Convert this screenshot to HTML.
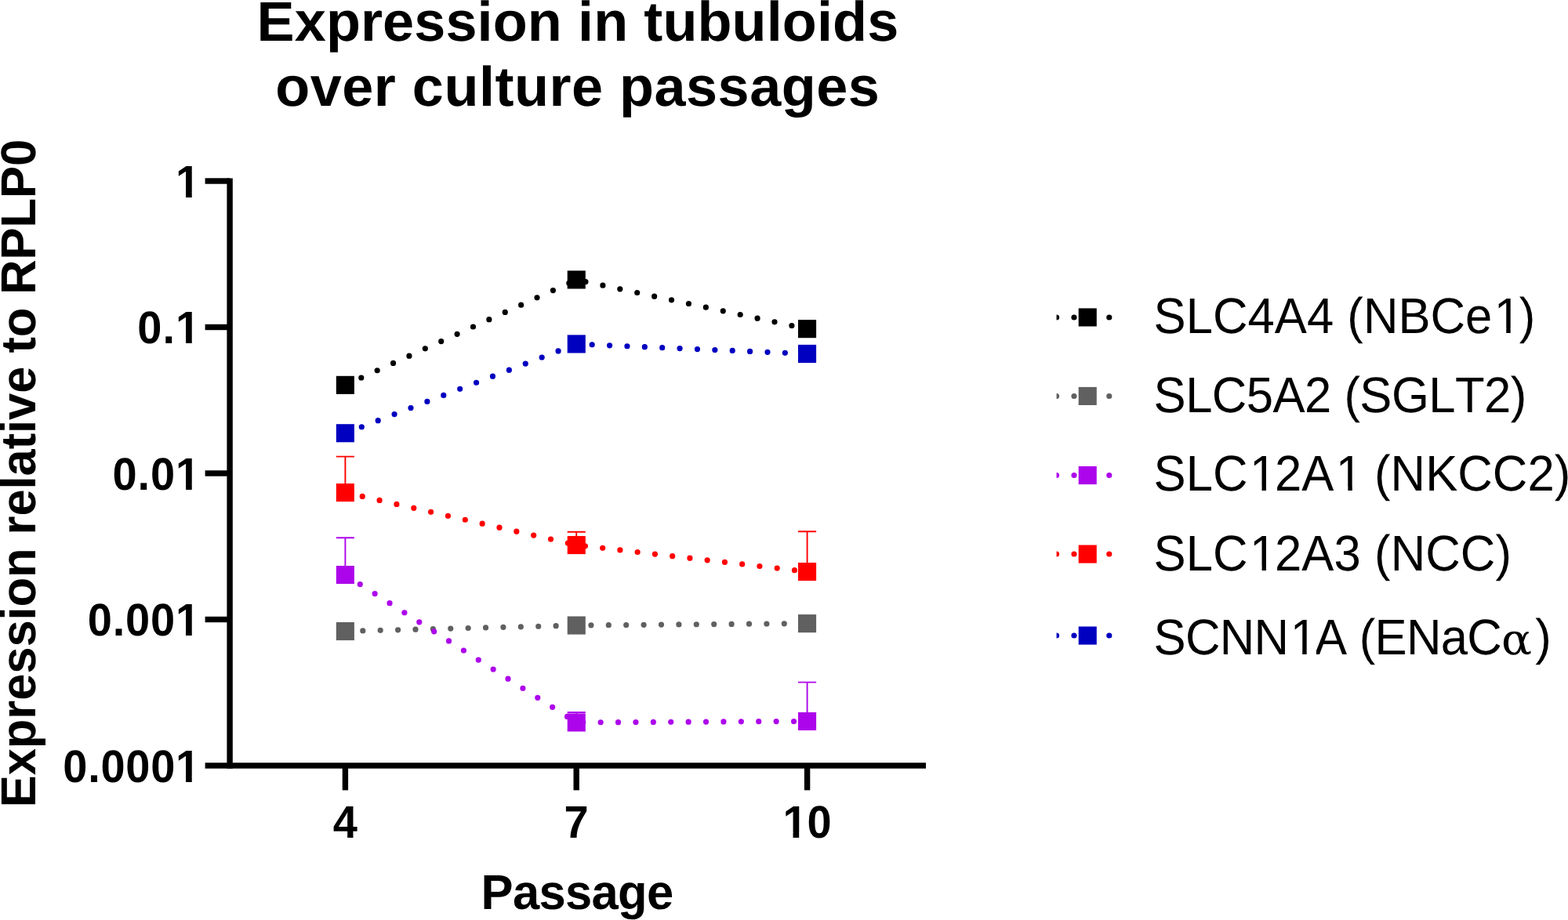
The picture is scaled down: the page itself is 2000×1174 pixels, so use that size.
<!DOCTYPE html>
<html lang="en"><head><meta charset="utf-8"><title>Expression in tubuloids over culture passages</title>
<style>
html,body{margin:0;padding:0;background:#fff;}
body{width:2000px;height:1174px;overflow:hidden;}
svg{display:block;}
text{font-family:"Liberation Sans",sans-serif;fill:#000;font-kerning:none;text-rendering:geometricPrecision;}
.b{font-weight:700;}
.title{font-size:72px;}
.axl{font-size:61.5px;}
.tk{font-size:56.0px;}
.lg{font-size:61.6px;}
.sym{font-family:"DejaVu Serif","Liberation Serif",serif;}
</style></head><body>
<svg width="2000" height="1174" viewBox="0 0 2000 1174">
<rect width="2000" height="1174" fill="#ffffff"/>
<text class="b title" transform="translate(327.60 52.20) scale(1 0.99)" textLength="818.60" lengthAdjust="spacing">Expression in tubuloids</text>
<text class="b title" transform="translate(351.20 134.60) scale(1 0.99)" textLength="770.60" lengthAdjust="spacing">over culture passages</text>
<text class="b axl" transform="translate(45.20 1030.20) rotate(-90) scale(1 1.02)" textLength="852.40" lengthAdjust="spacing">Expression relative to RPLP0</text>
<text class="b axl" transform="translate(613.60 1159.50) scale(1 1.02)" textLength="245.60" lengthAdjust="spacing">Passage</text>
<g fill="#000">
<rect x="289.40" y="227.50" width="7.40" height="753.20"/>
<rect x="261.60" y="973.30" width="919.40" height="7.40"/>
<rect x="261.60" y="227.30" width="31.50" height="7.40"/>
<rect x="261.60" y="413.80" width="31.50" height="7.40"/>
<rect x="261.60" y="600.30" width="31.50" height="7.40"/>
<rect x="261.60" y="786.80" width="31.50" height="7.40"/>
<rect x="436.70" y="977.00" width="7.40" height="31.40"/>
<rect x="731.50" y="977.00" width="7.40" height="31.40"/>
<rect x="1025.90" y="977.00" width="7.40" height="31.40"/>
</g>
<clipPath id="ct5"><path d="M0 0H2000V1174H0ZM225.53 245.36H237.07V253.90H225.53ZM244.75 245.36H255.59V253.90H244.75Z" clip-rule="evenodd"/></clipPath>
<g clip-path="url(#ct5)"><text class="b tk" transform="translate(224.00 251.90) scale(1 1.04)">1</text></g>
<clipPath id="ct6"><path d="M0 0H2000V1174H0ZM225.52 431.86H237.06V440.40H225.52ZM244.75 431.86H255.58V440.40H244.75Z" clip-rule="evenodd"/></clipPath>
<g clip-path="url(#ct6)"><text class="b tk" transform="translate(175.29 438.40) scale(1 1.04)" textLength="79.86" lengthAdjust="spacing">0.1</text></g>
<clipPath id="ct7"><path d="M0 0H2000V1174H0ZM225.52 618.36H237.06V626.90H225.52ZM244.75 618.36H255.58V626.90H244.75Z" clip-rule="evenodd"/></clipPath>
<g clip-path="url(#ct7)"><text class="b tk" transform="translate(143.59 624.90) scale(1 1.04)" textLength="111.56" lengthAdjust="spacing">0.01</text></g>
<clipPath id="ct8"><path d="M0 0H2000V1174H0ZM225.52 804.86H237.06V813.40H225.52ZM244.75 804.86H255.58V813.40H244.75Z" clip-rule="evenodd"/></clipPath>
<g clip-path="url(#ct8)"><text class="b tk" transform="translate(111.79 811.40) scale(1 1.04)" textLength="143.36" lengthAdjust="spacing">0.001</text></g>
<clipPath id="ct9"><path d="M0 0H2000V1174H0ZM225.52 991.36H237.06V999.90H225.52ZM244.75 991.36H255.58V999.90H244.75Z" clip-rule="evenodd"/></clipPath>
<g clip-path="url(#ct9)"><text class="b tk" transform="translate(80.29 997.90) scale(1 1.04)" textLength="174.86" lengthAdjust="spacing">0.0001</text></g>
<text class="b tk" transform="translate(440.40 1069.00) scale(1 1.04)" text-anchor="middle">4</text>
<text class="b tk" transform="translate(735.20 1069.00) scale(1 1.04)" text-anchor="middle">7</text>
<clipPath id="ct12"><path d="M0 0H2000V1174H0ZM999.98 1062.46H1011.52V1071.00H999.98ZM1019.21 1062.46H1030.04V1071.00H1019.21Z" clip-rule="evenodd"/></clipPath>
<g clip-path="url(#ct12)"><text class="b tk" transform="translate(1029.60 1069.00) scale(1 1.04)" text-anchor="middle">10</text></g>
<g fill="#606060" stroke="#606060">
<polyline points="440.4,805.5 735.2,798.0 1029.6,795.6" fill="none" stroke-width="7.2" stroke-linecap="round" stroke-linejoin="round" stroke-dasharray="0 22.4"/>
<rect x="428.8" y="794.0" width="23.1" height="23.1" stroke="none"/>
<rect x="723.7" y="786.5" width="23.1" height="23.1" stroke="none"/>
<rect x="1018.0" y="784.1" width="23.1" height="23.1" stroke="none"/>
</g>
<g fill="#AD05EB" stroke="#AD05EB">
<polyline points="440.4,733.5 735.2,921.9 1029.6,920.4" fill="none" stroke-width="7.2" stroke-linecap="round" stroke-linejoin="round" stroke-dasharray="0 22.4"/>
<path d="M440.4 733.5V686.3M428.8 686.3H451.9" fill="none" stroke-width="1.9"/>
<path d="M735.2 921.9V909.0M723.7 909.0H746.8" fill="none" stroke-width="1.9"/>
<path d="M1029.6 920.4V870.6M1018.0 870.6H1041.1" fill="none" stroke-width="1.9"/>
<rect x="428.8" y="722.0" width="23.1" height="23.1" stroke="none"/>
<rect x="723.7" y="910.4" width="23.1" height="23.1" stroke="none"/>
<rect x="1018.0" y="908.9" width="23.1" height="23.1" stroke="none"/>
</g>
<g fill="#FF0000" stroke="#FF0000">
<polyline points="440.4,628.5 735.2,695.5 1029.6,729.5" fill="none" stroke-width="7.2" stroke-linecap="round" stroke-linejoin="round" stroke-dasharray="0 22.4"/>
<path d="M440.4 628.5V582.6M428.8 582.6H451.9" fill="none" stroke-width="1.9"/>
<path d="M735.2 695.5V678.8M723.7 678.8H746.8" fill="none" stroke-width="1.9"/>
<path d="M1029.6 729.5V678.3M1018.0 678.3H1041.1" fill="none" stroke-width="1.9"/>
<rect x="428.8" y="617.0" width="23.1" height="23.1" stroke="none"/>
<rect x="723.7" y="684.0" width="23.1" height="23.1" stroke="none"/>
<rect x="1018.0" y="718.0" width="23.1" height="23.1" stroke="none"/>
</g>
<g fill="#0000C0" stroke="#0000C0">
<polyline points="440.4,552.8 735.2,439.0 1029.6,451.5" fill="none" stroke-width="7.2" stroke-linecap="round" stroke-linejoin="round" stroke-dasharray="0 22.4"/>
<rect x="428.8" y="541.2" width="23.1" height="23.1" stroke="none"/>
<rect x="723.7" y="427.4" width="23.1" height="23.1" stroke="none"/>
<rect x="1018.0" y="439.9" width="23.1" height="23.1" stroke="none"/>
</g>
<g fill="#000000" stroke="#000000">
<polyline points="440.4,491.3 735.2,357.0 1029.6,419.7" fill="none" stroke-width="7.2" stroke-linecap="round" stroke-linejoin="round" stroke-dasharray="0 22.4"/>
<rect x="428.8" y="479.8" width="23.1" height="23.1" stroke="none"/>
<rect x="723.7" y="345.4" width="23.1" height="23.1" stroke="none"/>
<rect x="1018.0" y="408.1" width="23.1" height="23.1" stroke="none"/>
</g>
<defs><clipPath id="lc"><rect x="1347.6" y="380" width="90" height="460"/></clipPath></defs>
<g fill="#000000" stroke="#000000">
<line x1="1347.6" y1="405.0" x2="1427" y2="405.0" stroke-width="7.2" stroke-linecap="round" stroke-dasharray="0 22.4" clip-path="url(#lc)"/>
<rect x="1375.7" y="393.4" width="23.1" height="23.1" stroke="none"/>
</g>
<clipPath id="ct13"><path d="M0 0H2000V1174H0ZM1908.44 419.21H1921.24V426.60H1908.44ZM1926.69 419.21H1939.00V426.60H1926.69Z" clip-rule="evenodd"/></clipPath>
<g clip-path="url(#ct13)"><text class="lg" transform="translate(1471.60 424.60) scale(1 1.04)" textLength="486.56" lengthAdjust="spacing">SLC4A4 (NBCe<tspan dx="2.4">1</tspan><tspan dx="-2.4">)</tspan></text></g>
<g fill="#606060" stroke="#606060">
<line x1="1347.6" y1="505.5" x2="1427" y2="505.5" stroke-width="7.2" stroke-linecap="round" stroke-dasharray="0 22.4" clip-path="url(#lc)"/>
<rect x="1375.7" y="493.9" width="23.1" height="23.1" stroke="none"/>
</g>
<text class="lg" transform="translate(1471.60 526.10) scale(1 1.04)" textLength="475.73" lengthAdjust="spacing">SLC5A2 (SGLT2)</text>
<g fill="#AD05EB" stroke="#AD05EB">
<line x1="1347.6" y1="606.5" x2="1427" y2="606.5" stroke-width="7.2" stroke-linecap="round" stroke-dasharray="0 22.4" clip-path="url(#lc)"/>
<rect x="1375.7" y="595.0" width="23.1" height="23.1" stroke="none"/>
</g>
<clipPath id="ct15"><path d="M0 0H2000V1174H0ZM1596.74 621.01H1609.54V628.40H1596.74ZM1614.98 621.01H1627.30V628.40H1614.98ZM1706.57 621.01H1719.36V628.40H1706.57ZM1724.81 621.01H1737.13V628.40H1724.81Z" clip-rule="evenodd"/></clipPath>
<g clip-path="url(#ct15)"><text class="lg" transform="translate(1471.60 626.40) scale(1 1.04)" textLength="531.65" lengthAdjust="spacing">SLC<tspan dx="2.4">1</tspan><tspan dx="-2.4">2</tspan>A<tspan dx="2.4">1</tspan><tspan dx="-2.4"> </tspan>(NKCC2)</text></g>
<g fill="#FF0000" stroke="#FF0000">
<line x1="1347.6" y1="707.0" x2="1427" y2="707.0" stroke-width="7.2" stroke-linecap="round" stroke-dasharray="0 22.4" clip-path="url(#lc)"/>
<rect x="1375.7" y="695.5" width="23.1" height="23.1" stroke="none"/>
</g>
<clipPath id="ct16"><path d="M0 0H2000V1174H0ZM1596.77 722.51H1609.57V729.90H1596.77ZM1615.02 722.51H1627.33V729.90H1615.02Z" clip-rule="evenodd"/></clipPath>
<g clip-path="url(#ct16)"><text class="lg" transform="translate(1471.60 727.90) scale(1 1.04)" textLength="456.30" lengthAdjust="spacing">SLC<tspan dx="2.4">1</tspan><tspan dx="-2.4">2</tspan>A3 (NCC)</text></g>
<g fill="#0000C0" stroke="#0000C0">
<line x1="1347.6" y1="811.0" x2="1427" y2="811.0" stroke-width="7.2" stroke-linecap="round" stroke-dasharray="0 22.4" clip-path="url(#lc)"/>
<rect x="1375.7" y="799.5" width="23.1" height="23.1" stroke="none"/>
</g>
<clipPath id="ct17"><path d="M0 0H2000V1174H0ZM1648.43 829.81H1661.22V837.20H1648.43ZM1666.67 829.81H1678.99V837.20H1666.67Z" clip-rule="evenodd"/></clipPath>
<g clip-path="url(#ct17)"><text class="lg" transform="translate(1471.60 835.20) scale(1 1.04)" textLength="444.14" lengthAdjust="spacing">SCNN<tspan dx="2.4">1</tspan><tspan dx="-2.4">A</tspan> (ENaC</text></g>
<text class="sym" transform="translate(1915.00 835.20) scale(1.05 1.0)" font-size="55">α</text>
<text class="lg" transform="translate(1958.20 835.20) scale(1 1.04)">)</text>
</svg>
</body></html>
